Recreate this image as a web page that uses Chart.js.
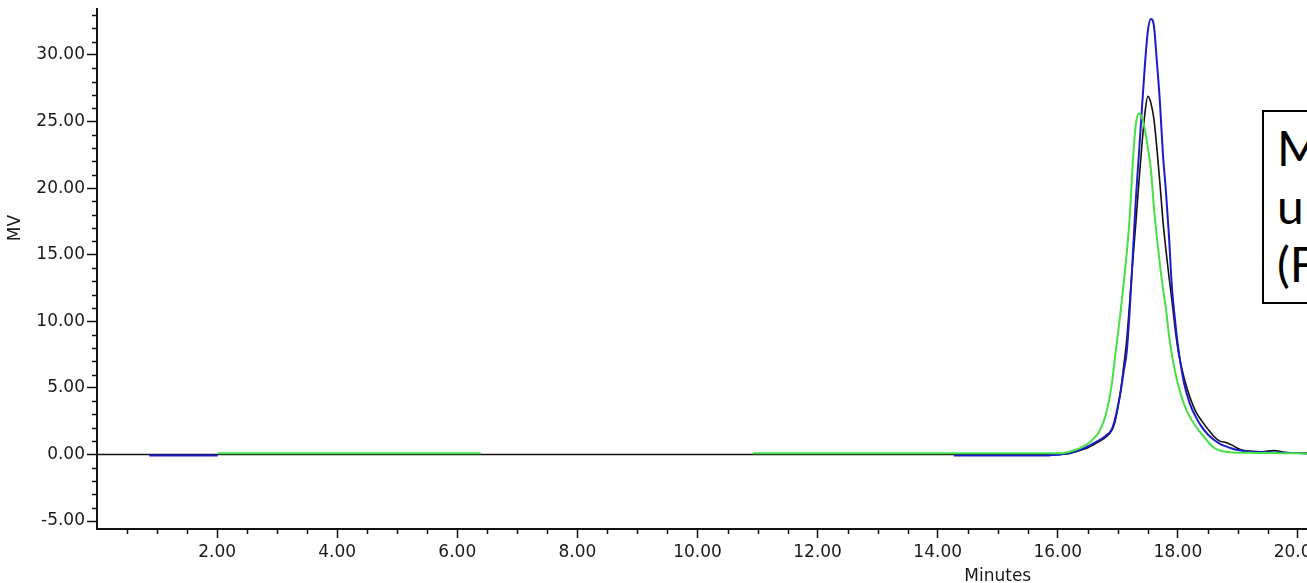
<!DOCTYPE html>
<html>
<head>
<meta charset="utf-8">
<script src="https://cdn.jsdelivr.net/npm/chart.js@4/dist/chart.umd.min.js"></script>
<style>
  html, body { margin: 0; padding: 0; background: #fff; overflow: hidden; }
  #wrap { position: relative; width: 1307px; height: 583px; }
  #note {
    position: absolute; left: 1262px; top: 110px; width: 300px; height: 194px;
    border: 2px solid #000; background: #fff; box-sizing: border-box;
    padding: 7px 0 0 13px; font-family: Lato, "Open Sans", sans-serif;
    font-size: 48px; line-height: 58px; color: #000; white-space: nowrap;
  }
</style>
</head>
<body>
<div id="wrap">
  <canvas id="chart-chrom" width="1307" height="583"></canvas>
  <div id="note">M<br>u<br>(F</div>
</div>
<script>
// temps (minutes) autour du pic
var peakTimes = [15.9, 16.0, 16.1, 16.2, 16.3, 16.4, 16.5, 16.6, 16.7, 16.8, 16.9,
    16.95, 17.0, 17.05, 17.1, 17.15, 17.2, 17.25, 17.3, 17.35, 17.4, 17.45, 17.5,
    17.55, 17.6, 17.65, 17.7, 17.75, 17.8, 17.85, 17.9, 17.95, 18.0,
    18.1, 18.2, 18.3, 18.4, 18.5, 18.6, 18.7, 18.8, 18.9, 19.0, 19.1, 19.2,
    19.4, 19.6, 19.8, 20.0, 20.3];

var blackPeak = [0, 0, 0.02, 0.08, 0.2, 0.35, 0.5, 0.75, 1.0, 1.3, 1.8,
    2.4, 3.5, 4.9, 6.7, 8.7, 11.6, 14.6, 17.4, 20.4, 23.2, 25.6, 26.9,
    26.4, 25.2, 23.0, 20.4, 17.6, 15.4, 13.4, 11.6, 9.6, 7.9,
    5.8, 4.3, 3.2, 2.5, 1.9, 1.35, 1.0, 0.9, 0.7, 0.45, 0.3, 0.25,
    0.2, 0.3, 0.15, 0.12, 0.08];

var bluePeak = [-0.05, -0.03, 0.05, 0.1, 0.25, 0.4, 0.6, 0.85, 1.1, 1.4, 1.9,
    2.6, 3.6, 4.8, 6.3, 7.8, 11.0, 15.0, 19.2, 22.5, 25.9, 29.2, 31.8,
    32.7, 32.2, 29.5, 26.5, 22.6, 19.8, 16.5, 12.6, 10.2, 8.2,
    5.4, 3.8, 2.8, 2.05, 1.5, 1.1, 0.8, 0.6, 0.45, 0.33, 0.25, 0.2,
    0.18, 0.15, 0.12, 0.1, 0.05];

var greenPeak = [0.08, 0.08, 0.1, 0.2, 0.35, 0.55, 0.8, 1.2, 1.8, 3.0, 5.3,
    7.2, 9.0, 10.9, 13.0, 15.2, 18.0, 22.0, 24.8, 25.6, 25.3, 24.4, 23.0,
    21.4, 18.6, 16.3, 14.3, 12.5, 11.0, 9.0, 7.5, 6.3, 5.3,
    3.8, 2.8, 2.1, 1.5, 0.95, 0.5, 0.3, 0.2, 0.15, 0.12, 0.12, 0.12,
    0.1, 0.1, 0.08, 0.08, 0.06];

// lignes de base (null = trou dans le tracé)
var blackBaseTimes = [0.0];
var blackBase = [0.0];
var blueBaseTimes = [0.87, 2.01, 8.0, 14.27, 15.83];
var blueBase = [-0.08, -0.08, null, -0.08, -0.08];
var greenBaseTimes = [2.01, 6.39, 8.5, 10.92, 15.83];
var greenBase = [0.08, 0.08, null, 0.08, 0.08];

// graduations
var xMajorTicks = [0, 2, 4, 6, 8, 10, 12, 14, 16, 18, 20];
var yMajorTicks = [-5, 0, 5, 10, 15, 20, 25, 30];
var xMinorStep = 0.5;
var yMinorStep = 1;

function toPoints(times, values) {
    var pts = [];
    for (var i = 0; i < times.length; i++) {
	pts.push({ x: times[i], y: values[i] });
    }
    return pts;
}

var fontAxis = { family: "'DejaVu Sans', Verdana, sans-serif", size: 17 };

// petites graduations + titres des axes
var extrasPlugin = {
    id: 'extras',
    afterDraw: function(chart) {
	var ctx = chart.ctx;
	var xs = chart.scales.x, ys = chart.scales.y;
	ctx.save();
	ctx.strokeStyle = '#111';
	ctx.lineWidth = 1.5;
	ctx.beginPath();
	for (var t = xMinorStep; t <= xs.max; t += xMinorStep) {
	    if (xMajorTicks.indexOf(t) != -1) continue;
	    var px = Math.round(xs.getPixelForValue(t)) + 0.5;
	    ctx.moveTo(px, ys.bottom);
	    ctx.lineTo(px, ys.bottom + 5);
	}
	for (var v = Math.ceil(ys.min); v <= ys.max; v += yMinorStep) {
	    if (yMajorTicks.indexOf(v) != -1) continue;
	    var py = Math.round(ys.getPixelForValue(v)) + 0.5;
	    ctx.moveTo(xs.left - 5, py);
	    ctx.lineTo(xs.left, py);
	}
	ctx.stroke();

	ctx.fillStyle = '#1a1a1a';
	ctx.font = "17px 'DejaVu Sans', Verdana, sans-serif";
	ctx.textAlign = 'center';
	ctx.textBaseline = 'alphabetic';
	ctx.fillText('Minutes', xs.getPixelForValue(15), 581);

	ctx.translate(20, ys.getPixelForValue(17));
	ctx.rotate(-Math.PI / 2);
	ctx.fillText('MV', 0, 0);
	ctx.restore();
    }
};

var config = {
    type: 'line',
    data: {
	datasets: [
	    {
		label: 'vert',
		data: toPoints(greenBaseTimes, greenBase).concat(toPoints(peakTimes, greenPeak)),
		borderColor: '#45e045',
		borderWidth: 2,
	    },
	    {
		label: 'bleu',
		data: toPoints(blueBaseTimes, blueBase).concat(toPoints(peakTimes, bluePeak)),
		borderColor: '#1c1cc8',
		borderWidth: 2,
	    },
	    {
		label: 'noir',
		data: toPoints(blackBaseTimes, blackBase).concat(toPoints(peakTimes, blackPeak)),
		borderColor: '#111111',
		borderWidth: 1.6,
	    }
	]
    },
    options: {
	responsive: false,
	animation: false,
	devicePixelRatio: 1,
	layout: { padding: { top: 9, left: 0, right: 0, bottom: 0 } },
	elements: {
	    point: { radius: 0 },
	    line: { cubicInterpolationMode: 'monotone', fill: false }
	},
	spanGaps: false,
	plugins: {
	    legend: { display: false },
	    tooltip: { enabled: false }
	},
	scales: {
	    x: {
		type: 'linear',
		min: 0,
		max: 20.15,
		afterBuildTicks: function(scale) {
		    scale.ticks = xMajorTicks.map(function(v) { return { value: v }; });
		},
		afterFit: function(scale) {
		    scale.height = 54;
		    scale.paddingLeft = 0;
		    scale.paddingRight = 0;
		},
		grid: {
		    drawOnChartArea: false,
		    tickLength: 9,
		    tickWidth: 1.5,
		    tickColor: function(c) { return c.tick && c.tick.value === 0 ? 'rgba(0,0,0,0)' : '#111'; }
		},
		border: { color: '#111', width: 2 },
		ticks: {
		    maxRotation: 0,
		    autoSkip: false,
		    padding: 4,
		    color: '#1a1a1a',
		    font: fontAxis,
		    callback: function(v) { return v === 0 ? '' : v.toFixed(2); }
		}
	    },
	    y: {
		min: -5.6,
		max: 33.45,
		afterBuildTicks: function(scale) {
		    scale.ticks = yMajorTicks.map(function(v) { return { value: v }; });
		},
		afterFit: function(scale) {
		    scale.width = 97;
		    scale.paddingTop = 0;
		    scale.paddingBottom = 0;
		},
		grid: {
		    drawOnChartArea: false,
		    tickLength: 10,
		    tickWidth: 1.5,
		    tickColor: '#111'
		},
		border: { color: '#111', width: 2 },
		ticks: {
		    autoSkip: false,
		    padding: 2,
		    color: '#1a1a1a',
		    font: fontAxis,
		    callback: function(v) { return v.toFixed(2); }
		}
	    }
	}
    },
    plugins: [extrasPlugin]
};

window.onload = function() {
    var ctx = document.getElementById("chart-chrom").getContext("2d");
    window.chrom = new Chart(ctx, config);
};
</script>
</body>
</html>
